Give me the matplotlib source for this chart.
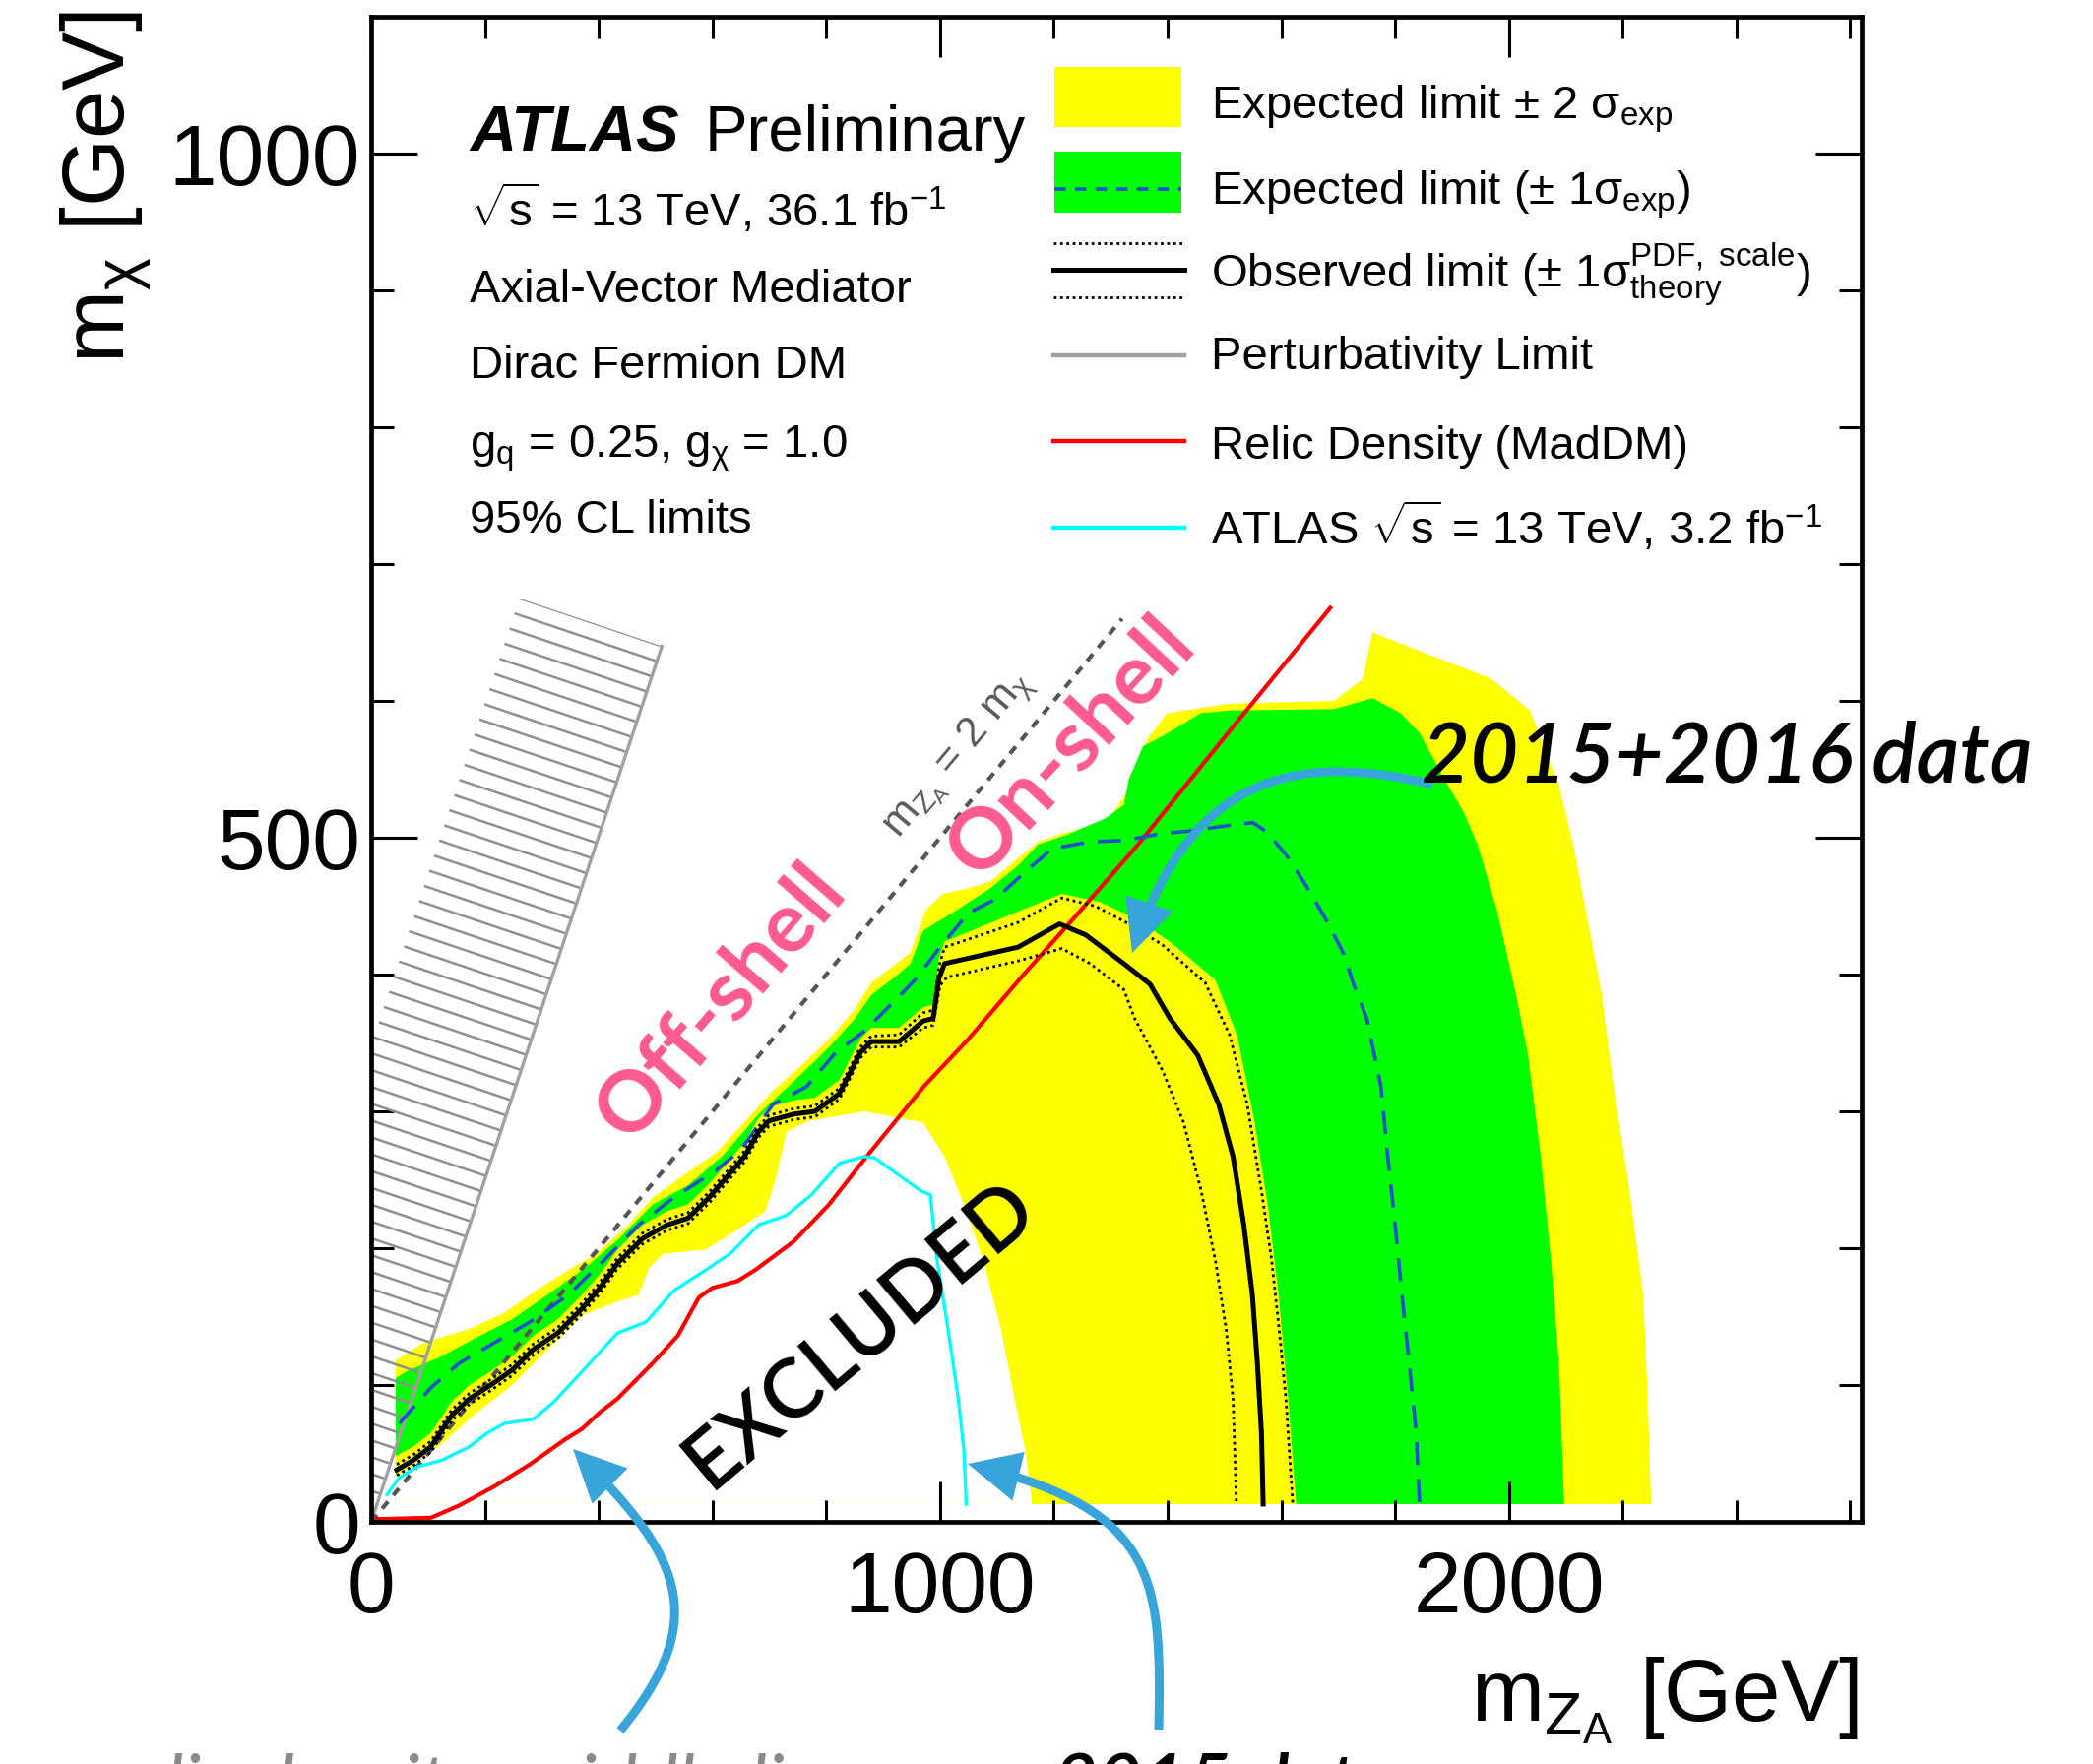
import numpy as np
import matplotlib
matplotlib.use('Agg')
import matplotlib.pyplot as plt
from matplotlib.patches import Polygon, Rectangle, FancyArrowPatch, ArrowStyle
from matplotlib.path import Path

plt.rcParams['font.family'] = ['Liberation Sans', 'DejaVu Sans']
plt.rcParams['mathtext.fontset'] = 'custom'
plt.rcParams['mathtext.rm'] = 'Liberation Sans'
plt.rcParams['mathtext.it'] = 'Liberation Sans:italic'
plt.rcParams['mathtext.bf'] = 'Liberation Sans:bold'
plt.rcParams['mathtext.default'] = 'regular'

# ---------------- data (GeV) ----------------
plus2_x = [43, 93, 173, 235, 297, 347, 396, 452, 495, 545, 607, 656, 706, 755, 805, 849, 879, 948, 975, 1004,
           1050, 1088, 1140, 1172, 1214, 1281, 1306, 1332, 1345, 1366, 1399, 1508, 1693, 1743, 1760, 1970, 2037,
           2088, 2113, 2163, 2184, 2212, 2236, 2244, 2250]
plus2_y = [118, 131, 141, 153, 171, 184, 196, 217, 237, 252, 270, 292, 315, 333, 353, 374, 394, 416, 447, 459,
           463, 468, 486, 497, 503, 510, 519, 535, 555, 573, 591, 598, 600, 616, 650, 616, 593,
           538, 495, 386, 318, 242, 166, 90, 13]

plus1_x = [43, 62, 124, 186, 248, 310, 371, 433, 495, 557, 619, 681, 743, 805, 849, 879, 920, 948, 970, 1029,
           1088, 1138, 1172, 1222, 1290, 1323, 1332, 1357, 1390, 1458, 1508, 1693, 1760, 1810, 1844, 1886, 1920,
           1945, 1979, 2012, 2033, 2056, 2074, 2088, 2097]
plus1_y = [105, 110, 121, 135, 148, 166, 184, 206, 232, 246, 268, 298, 322, 347, 367, 385, 398, 408, 432, 447,
           463, 480, 495, 502, 514, 524, 543, 567, 574, 591, 593, 594, 602, 591, 576, 543, 519,
           495, 447, 386, 343, 267, 191, 115, 13]

minus1_x = [43, 74, 105, 142, 173, 210, 248, 285, 328, 371, 402, 433, 477, 520, 557, 594, 625, 656, 681, 699,
            743, 780, 823, 860, 879, 928, 970, 988, 998, 1008, 1137, 1214, 1281, 1348, 1407, 1484, 1522, 1553,
            1577, 1595, 1612, 1626]
minus1_y = [48, 55, 65, 88, 100, 110, 121, 136, 148, 166, 181, 199, 217, 227, 232, 247, 262, 277, 295, 303,
            308, 310, 323, 353, 361, 361, 376, 378, 412, 424, 446, 459, 453, 440, 423, 396, 356, 292,
            229, 166, 90, 13]

minus2_x = [43, 50, 124, 186, 248, 310, 371, 433, 470, 489, 514, 588, 638, 693, 712, 730, 768, 867, 970, 1008,
            1045, 1076, 1107, 1131, 1150, 1162]
minus2_y = [33, 35, 57, 80, 100, 126, 151, 161, 166, 186, 196, 199, 212, 227, 252, 285, 293, 300, 292, 267,
            229, 191, 141, 90, 52, 13]

exp_x = [50, 62, 105, 155, 217, 279, 347, 409, 470, 532, 607, 650, 706, 765, 817, 868, 928, 958, 1000, 1050,
         1097, 1147, 1197, 1264, 1323, 1390, 1441, 1508, 1550, 1575, 1609, 1642, 1676, 1710, 1726, 1750, 1775,
         1787, 1800, 1812, 1825, 1837, 1843]
exp_y = [72, 78, 98, 116, 131, 146, 166, 191, 217, 237, 257, 272, 305, 318, 343, 359, 384, 397, 420, 445,
         455, 474, 492, 497, 498, 503, 505, 509, 511, 504, 487, 466, 442, 415, 394, 368, 318,
         267, 217, 166, 115, 65, 13]

obs_x = [45, 74, 105, 142, 173, 210, 248, 285, 328, 371, 402, 433, 477, 520, 557, 594, 625, 656, 681, 699,
         743, 780, 823, 860, 879, 928, 970, 988, 998, 1008, 1137, 1210, 1256, 1323, 1369, 1404, 1453, 1490,
         1515, 1534, 1549, 1558, 1565, 1568]
obs_y = [38, 45, 55, 78, 90, 100, 111, 126, 138, 156, 171, 189, 207, 217, 222, 237, 252, 267, 285, 293,
         298, 300, 313, 343, 351, 351, 366, 368, 397, 408, 420, 437, 429, 408, 393, 368, 341, 305,
         267, 217, 166, 115, 65, 13]

obs_up_x = [45, 74, 105, 142, 173, 210, 248, 285, 328, 371, 402, 433, 477, 520, 557, 594, 625, 656, 681, 699,
            743, 780, 823, 860, 879, 928, 970, 988, 998, 1008, 1137, 1214, 1273, 1332, 1390, 1466, 1509, 1540,
            1565, 1583, 1596, 1608, 1620]
obs_up_y = [42, 49, 59, 82, 94, 104, 115, 130, 142, 160, 175, 193, 211, 221, 226, 241, 256, 271, 289, 297,
            302, 304, 317, 347, 355, 356, 372, 374, 406, 420, 438, 456, 450, 437, 422, 394, 356, 305,
            242, 191, 141, 90, 13]

obs_dn_x = [45, 74, 105, 142, 173, 210, 248, 285, 328, 371, 402, 433, 477, 520, 557, 594, 625, 656, 681, 699,
            743, 780, 823, 860, 879, 928, 970, 988, 1000, 1012, 1138, 1214, 1264, 1323, 1342, 1391, 1428, 1459,
            1484, 1503, 1515, 1521]
obs_dn_y = [34, 41, 51, 74, 86, 96, 107, 122, 134, 152, 167, 185, 203, 213, 218, 233, 248, 263, 281, 289,
            294, 296, 309, 339, 347, 347, 361, 363, 392, 398, 410, 419, 408, 389, 368, 330, 292, 242,
            191, 141, 90, 13]

cyan_x = [28, 49, 80, 124, 173, 204, 235, 285, 322, 371, 433, 483, 532, 588, 631, 681, 730, 774, 823, 866,
          885, 966, 983, 995, 1014, 1032, 1042, 1046]
cyan_y = [20, 32, 40, 45, 55, 65, 72, 75, 88, 110, 138, 146, 169, 184, 196, 217, 224, 239, 262, 267,
          266, 242, 239, 191, 141, 90, 52, 13]

relic_x = [10, 105, 155, 217, 279, 340, 371, 402, 433, 464, 495, 539, 576, 600, 644, 675, 743, 805, 867, 971,
           1048, 1147, 1237, 1346, 1513, 1686]
relic_y = [2, 3, 12, 26, 42, 60, 68, 80, 90, 103, 116, 136, 164, 171, 176, 184, 205, 232, 265, 318,
           352, 400, 442, 494, 580, 668]

pert_x = [0, 511]
pert_y = [0, 640]
hatch_poly_x = [0, 511, 261, 0]
hatch_poly_y = [0, 640, 675, 348]

diag_x = [0, 1320]
diag_y = [0, 660]

x_major = [0, 1000, 2000]
y_major = [0, 500, 1000]

legend_labels = [r'Expected limit $\pm$ 2 $\sigma_{exp}$',
                 r'Expected limit ($\pm$ 1$\sigma_{exp}$)',
                 r'Observed limit ($\pm$ 1$\sigma^{PDF,\ scale}_{theory}$)',
                 'Perturbativity Limit',
                 'Relic Density (MadDM)',
                 r'ATLAS $\sqrt{s}$ = 13 TeV, 3.2 fb$^{-1}$']
info_lines = [r'$\sqrt{s}$ = 13 TeV, 36.1 fb$^{-1}$',
              'Axial-Vector Mediator',
              'Dirac Fermion DM',
              r'g$_{q}$ = 0.25, g$_{\chi}$ = 1.0',
              '95% CL limits']

YELLOW = '#ffff00'
GREEN = '#00ff00'
BLUE = '#1f52c8'
PINK = '#ff5a90'
ARROW = '#37a4da'

# ---------------- figure ----------------
W, H = 2126, 1792
fig = plt.figure(figsize=(W / 100, H / 100), dpi=100)
fig.patch.set_facecolor('white')
ax = fig.add_axes([377 / W, (H - 1546) / H, 1514 / W, 1529 / H])


def region(xs, ys, color, z):
    pts = list(zip(xs, ys)) + [(xs[0], ys[-1])]
    ax.add_patch(Polygon(pts, closed=True, facecolor=color, edgecolor='none', lw=0, zorder=z))


region(plus2_x, plus2_y, YELLOW, 1.0)
region(plus1_x, plus1_y, GREEN, 1.1)
region(minus1_x, minus1_y, YELLOW, 1.2)
region(minus2_x, minus2_y, 'white', 1.3)

# hatched perturbativity region
hp = Polygon(list(zip(hatch_poly_x, hatch_poly_y)), closed=True, facecolor='none', edgecolor='none')
ax.add_patch(hp)
slope = (hatch_poly_y[1] - hatch_poly_y[2]) / (hatch_poly_x[1] - hatch_poly_x[2])
c0 = hatch_poly_y[2] - slope * hatch_poly_x[2]
hx = np.array([0, max(hatch_poly_x) + 50])
for c in np.arange(c0, -120, -12.3):
    ln, = ax.plot(hx, c + slope * hx, color='#8f8f8f', lw=1.8, zorder=2.2, solid_capstyle='butt')
    ln.set_clip_path(hp)
ax.plot(pert_x, pert_y, color='#a0a0a0', lw=2.4, zorder=2.3)

# lines
ax.plot(diag_x, diag_y, color='#555555', lw=3.0, dashes=(2.2, 2.0), zorder=3)
ax.plot(relic_x, relic_y, color='#ff0000', lw=3.0, zorder=4)
ax.plot(cyan_x, cyan_y, color='#00ffff', lw=2.4, zorder=4)
ax.plot(exp_x, exp_y, color=BLUE, lw=2.6, dashes=(6.5, 3.9), zorder=5)
ax.plot(obs_up_x, obs_up_y, color='black', lw=2.0, dashes=(1.0, 1.3), zorder=5)
ax.plot(obs_dn_x, obs_dn_y, color='black', lw=2.0, dashes=(1.0, 1.3), zorder=5)
ax.plot(obs_x, obs_y, color='black', lw=3.6, zorder=6)

ax.set_xlim(0, 2620)
ax.set_ylim(0, 1100)

# axes styling
for s in ax.spines.values():
    s.set_linewidth(3.4)
    s.set_zorder(20)
ax.set_xticks(x_major)
ax.set_xticks(np.arange(0, 2620, 200), minor=True)
ax.set_yticks(y_major)
ax.set_yticks(np.arange(0, 1101, 100), minor=True)
ax.tick_params(which='both', direction='in', top=True, right=True, width=2.2, labelsize=63)
ax.tick_params(axis='x', which='major', length=29.5, pad=21)
ax.tick_params(axis='x', which='minor', length=15.6)
ax.tick_params(axis='y', which='major', length=34, pad=8)
ax.tick_params(axis='y', which='minor', length=16.6)

fig.text(108 / W, 1 - 12 / H, r'm$_{\chi}$ [GeV]', rotation=90, ha='center', va='top', fontsize=64)
fig.text(1888 / W, 1 - 1748 / H, r'm$_{Z_{A}}$ [GeV]', ha='right', va='baseline', fontsize=64)


# ---------------- legend & info (layout in axes fraction) ----------------
def axx(px):
    return (px - 377) / 1514


def axy(py):
    return (1546 - py) / 1529


T = ax.transAxes
bx0, bx1 = axx(1071), axx(1200)
ax.add_patch(Rectangle((bx0, axy(129)), bx1 - bx0, axy(68) - axy(129), transform=T, facecolor=YELLOW,
                       edgecolor='none', zorder=7))
ax.add_patch(Rectangle((bx0, axy(216)), bx1 - bx0, axy(154) - axy(216), transform=T, facecolor=GREEN,
                       edgecolor='none', zorder=7))
ax.plot([bx0, bx1], [axy(191.5)] * 2, transform=T, color=BLUE, lw=2.6, dashes=(3.2, 2.6), zorder=8)
lx0, lx1 = axx(1070), axx(1203)
ax.plot([lx0, lx1], [axy(274)] * 2, transform=T, color='black', lw=3.6, zorder=8)
ax.plot([lx0, lx1], [axy(247)] * 2, transform=T, color='black', lw=2.0, dashes=(1.0, 1.3), zorder=8)
ax.plot([lx0, lx1], [axy(302)] * 2, transform=T, color='black', lw=2.0, dashes=(1.0, 1.3), zorder=8)
ax.plot([lx0, lx1], [axy(361)] * 2, transform=T, color='#a0a0a0', lw=3.2, zorder=8)
ax.plot([lx0, lx1], [axy(448)] * 2, transform=T, color='#ff0000', lw=3.2, zorder=8)
ax.plot([lx0, lx1], [axy(536)] * 2, transform=T, color='#00ffff', lw=3.2, zorder=8)
leg_base = [120, 207, 292, 375, 466, 553]
for lab, yb in zip(legend_labels, leg_base):
    ax.text(axx(1230), axy(yb), lab, transform=T, fontsize=34, ha='left', va='baseline', zorder=9)

ax.text(axx(477), axy(153), 'ATLAS', transform=T, fontsize=47, weight='bold', style='italic',
        ha='left', va='baseline')
ax.text(axx(716), axy(153), 'Preliminary', transform=T, fontsize=47, ha='left', va='baseline')
info_base = [230, 307, 384, 464, 541]
for lab, yb in zip(info_lines, info_base):
    ax.text(axx(477), axy(yb), lab, transform=T, fontsize=34, ha='left', va='baseline')

# ---------------- in-plot annotations ----------------
ax.text(1033, 560, r'm$_{Z_{A}}$ = 2 m$_{\chi}$', rotation=50, rotation_mode='anchor', ha='center',
        va='center', fontsize=31, color='#5a5a5a', zorder=9)
ax.text(615, 380, 'Off-shell', rotation=49, rotation_mode='anchor', ha='center', va='center',
        fontsize=62, color=PINK, weight='bold', family='Lato', zorder=9)
ax.text(1230, 566, 'On-shell', rotation=47, rotation_mode='anchor', ha='center', va='center',
        fontsize=62, color=PINK, weight='bold', family='Lato', zorder=9)
ax.text(860, 137, 'EXCLUDED', rotation=40, rotation_mode='anchor', ha='center', va='center',
        fontsize=60, color='black', family='Lato', weight=600, zorder=9)


def fp(x, y):
    return (x / W, 1 - y / H)


def curved_arrow(pts):
    path = Path([fp(*p) for p in pts], [Path.MOVETO, Path.CURVE4, Path.CURVE4, Path.CURVE4])
    a = FancyArrowPatch(path=path, arrowstyle=ArrowStyle('-|>', head_length=1.25, head_width=0.6),
                        mutation_scale=22, color=ARROW, lw=6.5, joinstyle='miter', capstyle='butt',
                        transform=fig.transFigure, zorder=30)
    fig.add_artist(a)


curved_arrow([(1455, 797), (1305, 760), (1208, 798), (1150, 968)])
curved_arrow([(630, 1758), (726, 1642), (687, 1577), (582, 1472)])
curved_arrow([(1177, 1757), (1180, 1607), (1177, 1535), (983, 1487)])

fig.text(1754 / W, 1 - 794 / H, '2015+2016 data', fontsize=61, style='italic', weight=600, family='Lato',
         ha='center', va='baseline', zorder=31)
fig.text(1244 / W, 1 - 1836 / H, '2015 data', fontsize=56, style='italic', weight=600, family='Lato',
         ha='center', va='baseline', zorder=31)
fig.text(105 / W, 1 - 1838 / H, 'relic density, middle line', fontsize=56, style='italic', family='Lato',
         color='#8a8a8a', ha='left', va='baseline', zorder=31)

fig.savefig('out.png', dpi=100, facecolor='white')
